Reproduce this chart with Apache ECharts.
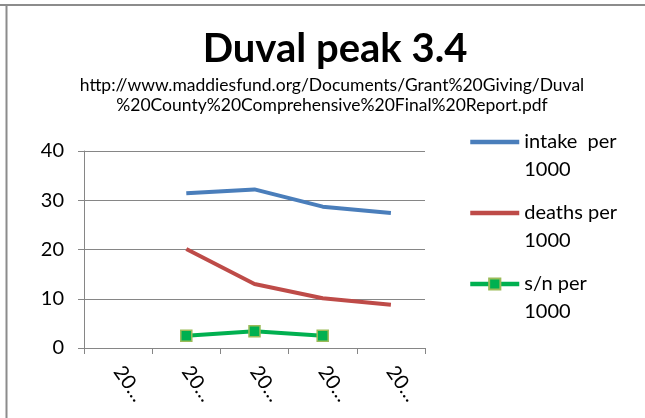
<!DOCTYPE html>
<html>
<head>
    <meta charset="utf-8">
    <title>Duval peak 3.4</title>
    <script src="https://cdn.jsdelivr.net/npm/echarts@6/dist/echarts.min.js"></script>
    <style>
        html, body { margin: 0; padding: 0; background: #fff; }
    </style>
</head>
<body>
    <div id="main" style="width: 645px;height:418px;"></div>
    <script type="text/javascript">
        // x labels are cut off in the original chart ("20...")
        var categories = ['20…', '20…', '20…', '20…', '20…'];
        var intake = [null, 31.4, 32.2, 28.7, 27.4];
        var deaths = [null, 20.1, 13.0, 10.1, 8.8];
        var sn = [null, 2.5, 3.4, 2.5, null];
        var seriesNames = ['intake  per\n1000', 'deaths per\n1000', 's/n per\n1000'];

        var font = 'Lato, "Open Sans", sans-serif';
        var myChart = echarts.init(document.getElementById('main'));

        var option = {
            animation: false,
            backgroundColor: '#fff',
            title: [{
                text: 'Duval peak 3.4',
                left: 330,
                textAlign: 'center',
                top: 24,
                textStyle: { fontFamily: font, fontSize: 40, fontWeight: 'bold', color: '#000' }
            }, {
                text: 'http://www.maddiesfund.org/Documents/Grant%20Giving/Duval\n%20County%20Comprehensive%20Final%20Report.pdf',
                left: 327,
                textAlign: 'center',
                top: 70,
                textStyle: { fontFamily: font, fontSize: 17.5, fontWeight: 'normal', color: '#000', lineHeight: 20, align: 'center' }
            }],
            legend: {
                orient: 'vertical',
                left: 468,
                top: 100,
                padding: 0,
                itemWidth: 49,
                itemHeight: 14,
                itemGap: -13,
                // leading blank line puts the first text line level with the icon
                formatter: function (name) { return '\n' + name; },
                lineStyle: { width: 4.5 },
                data: [
                    { name: seriesNames[0], itemStyle: { opacity: 0 } },
                    { name: seriesNames[1], itemStyle: { opacity: 0 } },
                    { name: seriesNames[2] }
                ],
                textStyle: {
                    fontFamily: font, fontSize: 20, color: '#000', lineHeight: 28
                }
            },
            grid: { left: 84, right: 220, top: 151, bottom: 70 },
            xAxis: {
                type: 'category',
                data: categories,
                boundaryGap: true,
                axisLine: { lineStyle: { color: '#868686', width: 1 } },
                axisTick: { show: true, length: 6, lineStyle: { color: '#868686' } },
                axisLabel: { rotate: -55, margin: 20, fontFamily: font, fontSize: 20, color: '#000', interval: 0 }
            },
            yAxis: {
                type: 'value',
                min: 0,
                max: 40,
                interval: 10,
                axisLine: { show: true, lineStyle: { color: '#868686', width: 1 } },
                axisTick: { show: true, length: 6, lineStyle: { color: '#868686' } },
                axisLabel: { margin: 20, fontFamily: font, fontSize: 20, color: '#000' },
                splitLine: { lineStyle: { color: '#868686', width: 1 } }
            },
            series: [{
                name: seriesNames[0],
                type: 'line',
                data: intake,
                symbol: 'none',
                lineStyle: { color: '#4A7EBB', width: 4 },
                itemStyle: { color: '#4A7EBB' }
            }, {
                name: seriesNames[1],
                type: 'line',
                data: deaths,
                symbol: 'none',
                lineStyle: { color: '#BE4B48', width: 4 },
                itemStyle: { color: '#BE4B48' }
            }, {
                name: seriesNames[2],
                type: 'line',
                data: sn,
                symbol: 'rect',
                symbolSize: 11,
                showAllSymbol: true,
                lineStyle: { color: '#00B050', width: 4 },
                itemStyle: { color: '#00B050', borderColor: '#9BBB59', borderWidth: 1.5 }
            }],
            graphic: [{
                type: 'line',
                shape: { x1: 0, y1: 5, x2: 645, y2: 5 },
                style: { stroke: '#8c8c8c', lineWidth: 2 }
            }, {
                type: 'line',
                shape: { x1: 6.5, y1: 5, x2: 6.5, y2: 418 },
                style: { stroke: '#8c8c8c', lineWidth: 2 }
            }]
        };

        myChart.setOption(option);
    </script>
</body>
</html>
